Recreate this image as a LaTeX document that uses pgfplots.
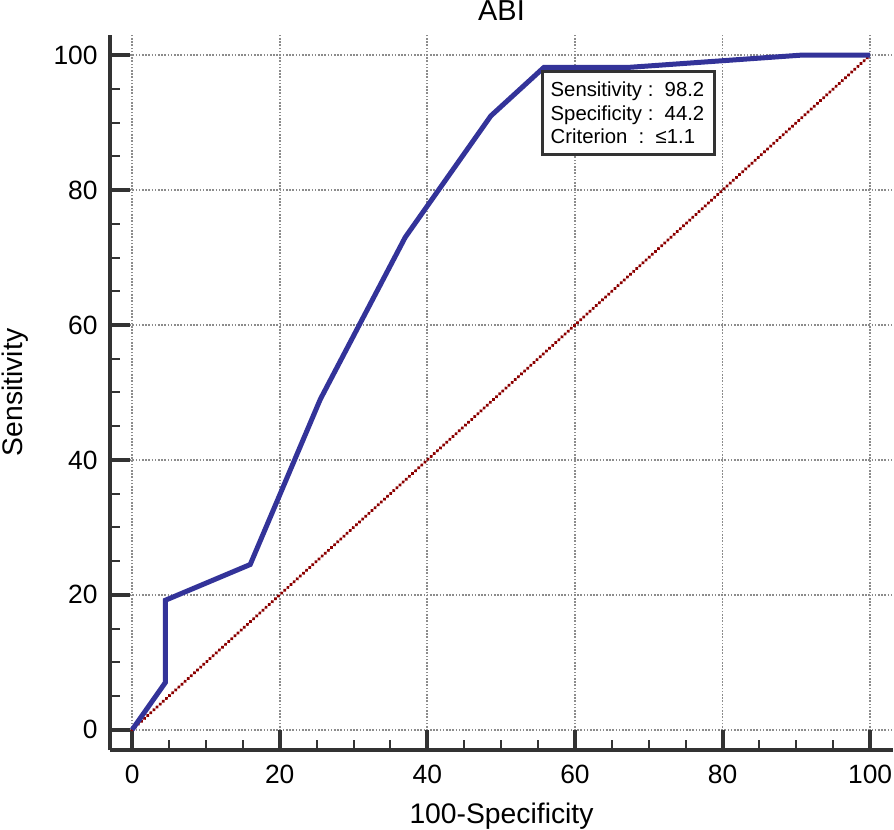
\documentclass[border=0pt]{standalone}
\usepackage{pgfplots}
\pgfplotsset{compat=1.18}
\usepackage{fontspec}
\setmainfont{Liberation Sans}
\definecolor{rocblue}{RGB}{51,51,153}
\definecolor{diagred}{RGB}{139,0,0}
\definecolor{axgray}{RGB}{51,51,51}
\definecolor{gridgray}{RGB}{140,140,140}
\begin{document}
\begin{tikzpicture}
\begin{axis}[
  scale only axis, width=391.5bp, height=357.5bp,
  xmin=-3, xmax=103.1, ymin=-3, ymax=103,
  axis lines=left,
  axis line style={-, line width=1.6bp, draw=axgray},
  xtick={0,20,...,100}, ytick={0,20,...,100},
  minor tick num=3,
  tick align=inside,
  major tick length=10bp, minor tick length=5.25bp,
  every major tick/.append style={line width=2bp, draw=axgray},
  every minor tick/.append style={line width=1bp, draw=axgray},
  grid=major,
  major grid style={line width=0.9bp, draw=gridgray, dash pattern=on 0.8bp off 0.8bp},
  tick label style={font=\fontsize{13.25}{15}\selectfont, /pgf/number format/assume math mode=true},
  xticklabel style={anchor=base, yshift=-16.5bp},
  yticklabel style={anchor=east, inner sep=0pt, xshift=-6bp},
  title={ABI},
  every axis title/.style={at={(axis description cs:0.5,1)}, anchor=base, yshift=7bp, font=\fontsize{14.5}{17}\selectfont},
  xlabel={100-Specificity},
  ylabel={Sensitivity},
  xlabel style={at={(axis description cs:0.5,-0.1026)}, anchor=base, font=\fontsize{14.2}{17}\selectfont},
  ylabel style={at={(axis description cs:-0.1115,0.5)}, anchor=base, font=\fontsize{14.2}{17}\selectfont},
  clip=false,
]
\addplot[diagred, line width=1.9bp, line cap=round, dash pattern=on 0.01bp off 2.1bp] coordinates {(0,0) (100,100)};
\addplot[rocblue, line width=2.5bp] coordinates {
  (0,0) (4.5,7) (4.5,19.2) (16,24.5) (25.5,49) (37,73) (48.6,91) (55.8,98.2) (67.3,98.2) (90.5,100) (100,100)
};
\node[draw=axgray, line width=1.3bp, fill=white, anchor=north west, align=left,
      minimum width=85bp, minimum height=41.5bp, inner xsep=4bp,
      font=\fontsize{10.2}{11.75}\selectfont]
  at (axis cs:55.45,97.8) {Sensitivity :\ \ 98.2\\Specificity :\ \ 44.2\\Criterion \ :\ \ ≤1.1\hphantom{0}};
\coordinate (O) at (rel axis cs:0,0);
\end{axis}
\pgfresetboundingbox
\path[use as bounding box] ([shift={(-55bp,-40bp)}]O) rectangle ([shift={(392bp,375bp)}]O);
\end{tikzpicture}
\end{document}
